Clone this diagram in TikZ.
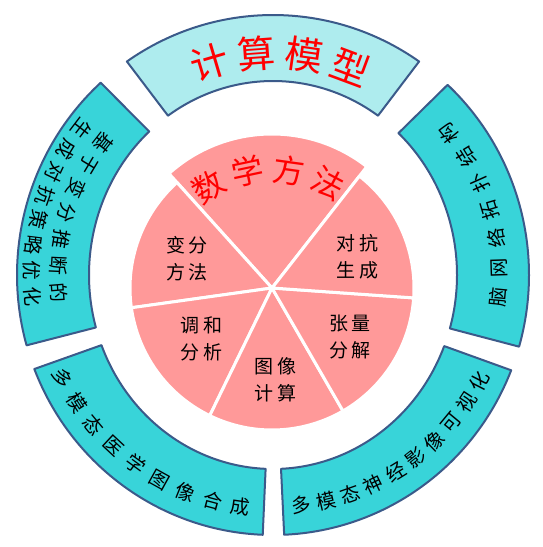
\documentclass[tikz,border=0pt]{standalone}
\usepackage{fontspec}
\setmainfont{Noto Sans CJK SC}
\newfontfamily\wedgefont[LetterSpace=20]{Noto Sans CJK SC}
\usetikzlibrary{calc}

\definecolor{ringcyan}{HTML}{38D4D9}
\definecolor{ringlight}{HTML}{AEECEE}
\definecolor{ringedge}{HTML}{3B5A8A}
\definecolor{piepink}{HTML}{FF9999}

\begin{document}
\begin{tikzpicture}[x=1pt, y=1pt,
    seg/.style={draw=ringedge, line width=2pt, line join=round, fill=ringcyan},
    wedge/.style={fill=piepink, draw=white, line width=3pt, line join=round},
    segtext/.style={font=\fontsize{19.5}{19.5}\selectfont, inner sep=0pt},
    wedgetext/.style={font=\wedgefont\fontsize{19}{27}\selectfont, align=center, inner sep=0pt},
    title/.style={text=red, inner sep=0pt, font=\fontsize{38}{38}\selectfont},
  ]
  \useasboundingbox (0,0) rectangle (543,547);
  \coordinate (ring) at (273,272);
  \coordinate (pie) at (272,259);

  % Outer ring
  \foreach \a/\b/\col in {55.2/124.8/ringlight, 132.3/195.7/ringcyan, 201.2/267.7/ringcyan,
      272.5/338.5/ringcyan, -16/47/ringcyan}
    \draw[seg, fill=\col, shift={(ring)}] (\a:256pt and 260pt)
      arc[start angle=\a, end angle=\b, x radius=256pt, y radius=260pt]
      -- (\b:184pt and 194pt)
      arc[start angle=\b, end angle=\a, x radius=184pt, y radius=194pt] -- cycle;

  % Pie
  \foreach \a/\b/\r in {52/132/154pt, 132/188/142pt, 188/244/142pt, 244/300/142pt,
      300/356/142pt, 356/412/142pt}
    \draw[wedge, shift={(pie)}] (0,0) -- (\a:\r) arc[start angle=\a, end angle=\b, radius=\r] -- cycle;

  % Ring labels
  \foreach \ch [count=\i from 0] in {计,算,模,型}
    \node[title, rotate={16.5-12.3*\i}] (model-\i) at ($(ring)+({106.5-12.3*\i}:222pt)$) {\ch};
  \foreach \txt/\r/\s/\d/\nm in {{脑,网,络,拓,扑,结,构}/226pt/-5.5/7.4/brain,
      {基,于,变,分,推,断,的}/215pt/142/7.1/varin,
      {生,成,对,抗,策,略,优,化}/241pt/142.6/6.06/advopt,
      {多,模,态,医,学,图,像,合,成}/234pt/206/7.0/synth,
      {多,模,态,神,经,影,像,可,视,化}/232pt/277/6.2/visual}
    \foreach \ch [count=\i from 0] in \txt
      \node[segtext, rotate={\s+\d*\i+90}] (\nm-\i) at ($(ring)+({\s+\d*\i}:\r)$) {\ch};

  % Pie labels
  \foreach \ch [count=\i from 0] in {数,学,方,法}
    \node[title, font=\fontsize{32}{32}\selectfont, rotate={32-20*\i}] (math-\i)
      at ($(pie)+({122-20*\i}:119pt)$) {\ch};
  \node[wedgetext] (varia) at ($(pie)+(161:90pt)$) {变分\\方法};
  \node[wedgetext] (adver) at ($(pie)+(20:91pt)$) {对抗\\生成};
  \node[wedgetext] (harmo) at ($(pie)+(216:87pt)$) {调和\\分析};
  \node[wedgetext] (tensor) at ($(pie)+(328:92pt)$) {张量\\分解};
  \node[wedgetext] (image) at ($(pie)+(272:92pt)$) {图像\\计算};
\end{tikzpicture}
\end{document}
